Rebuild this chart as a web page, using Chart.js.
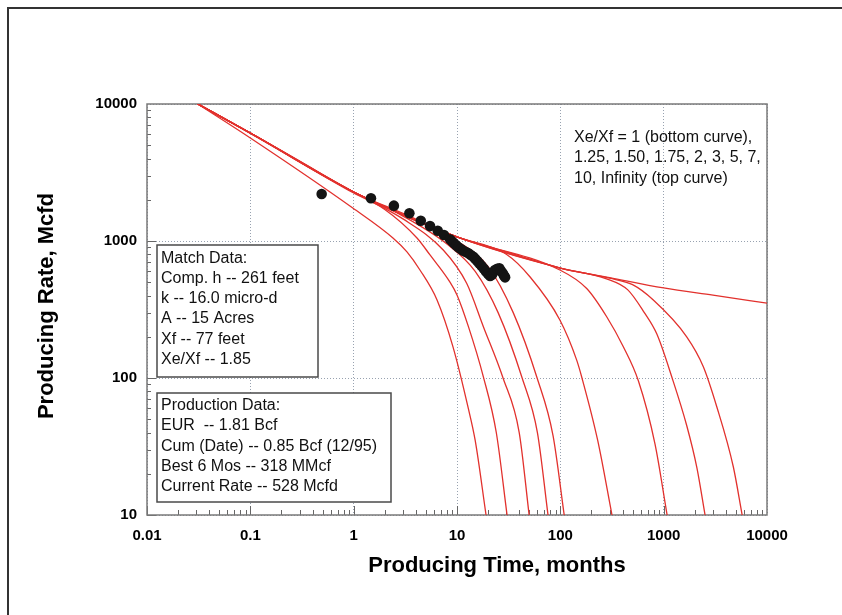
<!DOCTYPE html>
<html>
<head>
<meta charset="utf-8">
<script src="https://cdn.jsdelivr.net/npm/chart.js@4.4.1/dist/chart.umd.min.js"></script>
<style>
  html, body { margin: 0; padding: 0; background: #fff; }
  #wrap { width: 842px; height: 615px; }
</style>
</head>
<body>
<div id="wrap"><canvas id="rateChart" width="842" height="615"></canvas></div>
<script>
// axis ticks
const xTicks = [0.01, 0.1, 1, 10, 100, 1000, 10000];
const yTicks = [10, 100, 1000, 10000];

// type curves, [months, Mcfd], one per Xe/Xf
const xeXf1 = [[0.031, 10000], [0.1, 5650], [0.98, 1742], [2.4, 1052], [3.28, 832], [4.38, 614], [6.41, 371], [9.16, 168], [12.8, 61], [15, 35], [19.1, 10]];
const xeXf125 = [[0.031, 10000], [0.1, 6100], [1, 2240], [2, 1700], [4.1, 1052], [5.48, 791], [8.55, 501], [10, 404], [12.9, 237], [18, 102], [24, 40], [30.5, 10]];
const xeXf150 = [[0.031, 10000], [0.1, 6140], [1, 2270], [3, 1450], [7.36, 859], [12.4, 491], [18, 237], [27.9, 100], [40, 40], [49.9, 10]];
const xeXf175 = [[0.031, 10000], [0.1, 6140], [1, 2280], [3, 1520], [8, 950], [15, 600], [25, 300], [42.7, 100], [60, 40], [76, 10]];
const xeXf2 = [[0.031, 10000], [0.1, 6140], [1, 2280], [3, 1560], [10, 1000], [20, 650], [35, 300], [59.6, 100], [85, 38], [109, 10]];
const xeXf3 = [[0.031, 10000], [0.1, 6140], [1, 2280], [10, 1070], [30, 800], [51, 546], [99, 265], [144, 135], [162, 100], [230, 35], [316, 10]];
const xeXf5 = [[0.031, 10000], [0.1, 6140], [1, 2280], [10, 1070], [99, 614], [180, 450], [281, 280], [407, 169], [570, 95], [824, 33], [1080, 10]];
const xeXf7 = [[0.031, 10000], [0.1, 6140], [1, 2280], [10, 1070], [100, 635], [280, 530], [450, 440], [650, 300], [857, 210], [1208, 100], [1671, 45], [2100, 22], [2515, 10]];
const xeXf10 = [[0.031, 10000], [0.1, 6140], [1, 2280], [10, 1070], [100, 635], [300, 535], [500, 480], [794, 371], [1671, 200], [2420, 121], [3260, 62], [4720, 22.5], [5750, 10]];
const xeXfInf = [[0.031, 10000], [0.1, 6140], [0.3, 3830], [1, 2280], [3, 1590], [10, 1070], [30, 834], [100, 635], [300, 541], [1000, 454], [3000, 402], [10000, 352]];

// well production history
const prodMonths = [0.49, 1.47, 2.45, 3.46, 4.46, 5.48, 6.51, 7.48, 8.55, 8.95, 9.35, 9.8, 10.3, 10.9, 11.5, 12.2, 12.9, 13.6, 14.4, 15.0, 15.7, 16.5, 17.3, 18.2, 19.1, 20.0, 20.9, 21.8, 22.6, 23.3, 24.5, 25.7, 26.7, 27.7, 28.5, 29.2];
const prodRate = [2203, 2050, 1812, 1594, 1406, 1285, 1188, 1106, 1029, 995, 961, 930, 899, 873, 849, 831, 813, 790, 768, 742, 714, 685, 657, 627, 598, 575, 556, 566, 595, 614, 628, 632, 604, 581, 560, 543];

const matchText = ["Match Data:", "Comp. h -- 261 feet", "k -- 16.0 micro-d", "A -- 15 Acres", "Xf -- 77 feet", "Xe/Xf -- 1.85"];
const prodText = ["Production Data:", "EUR  -- 1.81 Bcf", "Cum (Date) -- 0.85 Bcf (12/95)", "Best 6 Mos -- 318 MMcf", "Current Rate -- 528 Mcfd"];
const curveNote = ["Xe/Xf = 1 (bottom curve),", "1.25, 1.50, 1.75, 2, 3, 5, 7,", "10, Infinity (top curve)"];

const curves = [xeXf1, xeXf125, xeXf150, xeXf175, xeXf2, xeXf3, xeXf5, xeXf7, xeXf10, xeXfInf];
const FONT = "'Liberation Sans', Arial, sans-serif";

const decorations = {
  id: "decorations",
  beforeDatasetsDraw(chart) {
    const { ctx, chartArea: a, scales } = chart;
    ctx.save();
    ctx.strokeStyle = "#666";
    ctx.lineWidth = 1;
    // inward minor/major tick marks
    for (let d = 0.01; d < 10000; d *= 10) {
      for (let m = 1; m < 10; m++) {
        const px = Math.round(scales.x.getPixelForValue(d * m)) + 0.5;
        ctx.beginPath();
        ctx.moveTo(px, a.bottom);
        ctx.lineTo(px, a.bottom - (m === 1 ? 9 : 5));
        ctx.stroke();
      }
    }
    for (let d = 10; d < 10000; d *= 10) {
      for (let m = 1; m < 10; m++) {
        const py = Math.round(scales.y.getPixelForValue(d * m)) + 0.5;
        ctx.beginPath();
        ctx.moveTo(a.left, py);
        ctx.lineTo(a.left + (m === 1 ? 9 : 4), py);
        ctx.stroke();
      }
    }
    // plot frame
    ctx.strokeStyle = "#7a7a7a";
    ctx.lineWidth = 1.5;
    ctx.strokeRect(a.left, a.top, a.right - a.left, a.bottom - a.top);
    ctx.restore();
  },
  afterDraw(chart) {
    const { ctx } = chart;
    ctx.save();
    // outer page frame
    ctx.strokeStyle = "#333";
    ctx.lineWidth = 2;
    ctx.beginPath();
    ctx.moveTo(8, 615);
    ctx.lineTo(8, 8);
    ctx.lineTo(842, 8);
    ctx.stroke();

    // boxes
    const box = (x, y, w, h, lines, base) => {
      ctx.fillStyle = "#fff";
      ctx.fillRect(x, y, w, h);
      ctx.strokeStyle = "#4a4a4a";
      ctx.lineWidth = 1.5;
      ctx.strokeRect(x, y, w, h);
      ctx.fillStyle = "#111";
      ctx.font = "16px " + FONT;
      ctx.textBaseline = "alphabetic";
      lines.forEach((t, i) => ctx.fillText(t, x + 4, base + i * 20.3));
    };
    box(157, 245, 161, 132, matchText, 262.5);
    box(157, 393, 234, 109, prodText, 410);

    ctx.fillStyle = "#111";
    ctx.font = "16px " + FONT;
    curveNote.forEach((t, i) => ctx.fillText(t, 574, 141.5 + i * 20.5));

    // axis titles
    ctx.font = "bold 22px " + FONT;
    ctx.textAlign = "center";
    ctx.textBaseline = "middle";
    ctx.fillStyle = "#000";
    ctx.fillText("Producing Time, months", 497, 566);
    ctx.translate(47, 306);
    ctx.rotate(-Math.PI / 2);
    ctx.fillText("Producing Rate, Mcfd", 0, 0);
    ctx.restore();
  }
};

const datasets = [{
  data: prodMonths.map((x, i) => ({ x, y: prodRate[i] })),
  showLine: false,
  pointRadius: 5.3,
  pointBackgroundColor: "#141414",
  pointBorderWidth: 0
}].concat(curves.map(c => ({
  data: c.map(p => ({ x: p[0], y: p[1] })),
  showLine: true,
  borderColor: "#e2312d",
  borderWidth: 1.3,
  pointRadius: 0,
  cubicInterpolationMode: "monotone"
})));

const gridStyle = {
  grid: { color: "#98a2b0", lineWidth: 1, drawTicks: false },
  border: { display: false, dash: [1, 2] }
};

new Chart(document.getElementById("rateChart"), {
  type: "scatter",
  data: { datasets },
  options: {
    responsive: false,
    animation: false,
    layout: { padding: { top: 104, right: 75, left: 0, bottom: 0 } },
    plugins: { legend: { display: false }, tooltip: { enabled: false } },
    scales: {
      x: {
        type: "logarithmic",
        min: 0.01,
        max: 10000,
        ...gridStyle,
        afterBuildTicks: s => { s.ticks = xTicks.map(v => ({ value: v })); },
        afterFit: s => { s.height = 100; },
        ticks: {
          padding: 12,
          color: "#000",
          font: { family: FONT, size: 15, weight: "bold" },
          callback: v => String(v)
        }
      },
      y: {
        type: "logarithmic",
        min: 10,
        max: 10000,
        ...gridStyle,
        afterBuildTicks: s => { s.ticks = yTicks.map(v => ({ value: v })); },
        afterFit: s => { s.width = 147; },
        ticks: {
          padding: 10,
          color: "#000",
          font: { family: FONT, size: 15, weight: "bold" },
          callback: v => String(v)
        }
      }
    }
  },
  plugins: [decorations]
});
</script>
</body>
</html>
